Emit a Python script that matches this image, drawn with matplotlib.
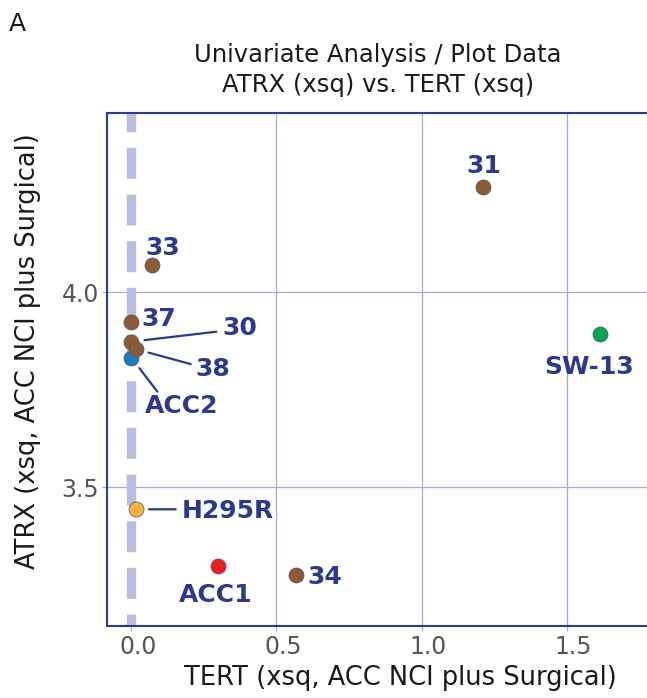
import matplotlib.pyplot as plt
import matplotlib.transforms as mtransforms

plt.rcParams['font.family'] = 'DejaVu Sans'
plt.rcParams['lines.scale_dashes'] = False

# cell lines / tumours: TERT vs ATRX (xsq)
samples = ['31', 'SW-13', '33', '37', 'ACC2', '30', '38', 'H295R', 'ACC1', '34']
tert = [1.212, 1.616, 0.071, 0.000, 0.000, 0.000, 0.015, 0.015, 0.299, 0.566]
atrx = [4.270, 3.892, 4.071, 3.924, 3.832, 3.873, 3.854, 3.443, 3.297, 3.274]
groups = ['tumor', 'SW-13', 'tumor', 'tumor', 'ACC2', 'tumor', 'tumor', 'H295R', 'ACC1', 'tumor']

xticks = [0.0, 0.5, 1.0, 1.5]
yticks = [3.5, 4.0]

group_colors = {'tumor': '#8b5a36', 'SW-13': '#00a651', 'ACC2': '#1a7dc4',
                'H295R': '#f7b040', 'ACC1': '#ec1c24'}

# label offsets in pixels (dx, dy of text centre) and leader line ends
label_pos = {'31': (1, 23), 'SW-13': (-11, -31), '33': (11, 19), '37': (27, 5),
             '30': (108, 16), '38': (77, -18), 'ACC2': (50, -46),
             'H295R': (92, 0), 'ACC1': (-2, -27), '34': (29, 0)}
leaders = {'30': (85, 10), '38': (55, -15), 'ACC2': (26, -34), 'H295R': (40, 0)}

navy = '#2b3990'
gridc = '#a3abd6'

fig = plt.figure(figsize=(6.47, 6.98), dpi=100)
ax = fig.add_axes([107/647, 72/698, 540/647, 513/698])
ax.set_xlim(-0.084, 1.777)
ax.set_ylim(3.1436, 4.4597)

ax.set_xticks(xticks)
ax.set_yticks(yticks)
ax.set_xticklabels(['%.1f' % t for t in xticks])
ax.set_yticklabels(['%.1f' % t for t in yticks])

ax.grid(True, color=gridc, lw=0.9, zorder=0)
ax.set_axisbelow(True)
# the zero line is drawn as a thick dashed band instead of a grid line
ax.xaxis.get_gridlines()[0].set_visible(False)
ax.axvline(0, color='#babce0', lw=6.8, ls=(13.7, (22.3, 11.3)), zorder=1)

for s, x, y, g in zip(samples, tert, atrx, groups):
    ax.scatter(x, y, s=117, color=group_colors[g], edgecolor='#555555',
               linewidth=0.5, zorder=3)
    if s in leaders:
        ax.annotate('', xy=(x, y), xytext=leaders[s], textcoords='offset pixels',
                    arrowprops=dict(arrowstyle='-', color=navy, lw=1.6,
                                    shrinkA=0, shrinkB=9.5), zorder=2)
    dx, dy = label_pos[s]
    ax.annotate(s, xy=(x, y), xytext=(dx, dy - 9), textcoords='offset pixels',
                ha='center', va='baseline', fontsize=18, fontweight='bold',
                color=navy, zorder=4)

ax.tick_params(labelsize=17, labelcolor='#555555', color=gridc, length=3.6,
               width=0.9)
ax.tick_params(axis='x', pad=3)
ax.tick_params(axis='y', pad=2.2)
shift = mtransforms.ScaledTranslation(0.07, 0, fig.dpi_scale_trans)
for lab in ax.get_xticklabels():
    lab.set_transform(lab.get_transform() + shift)

for side in ['left', 'top', 'bottom']:
    ax.spines[side].set_color('#2e3b92')
    ax.spines[side].set_linewidth(1.5)
ax.spines['right'].set_visible(False)

ax.set_xlabel('TERT (xsq, ACC NCI plus Surgical)', fontsize=18.5,
              color='#1a1a1a', va='baseline')
ax.xaxis.set_label_coords(0.544, -0.115)
ax.set_ylabel('ATRX (xsq, ACC NCI plus Surgical)', fontsize=18.5,
              color='#1a1a1a', va='baseline')
ax.yaxis.set_label_coords(-0.1333, 0.536)

fig.text(378/647, 1 - 62/698, 'Univariate Analysis / Plot Data', fontsize=17.5,
         ha='center', va='baseline', color='#1a1a1a')
fig.text(378/647, 1 - 92/698, 'ATRX (xsq) vs. TERT (xsq)', fontsize=17.5,
         ha='center', va='baseline', color='#1a1a1a')
fig.text(9/647, 1 - 31/698, 'A', fontsize=18, ha='left', va='baseline',
         color='#1a1a1a')

fig.savefig('out.png', dpi=100)
